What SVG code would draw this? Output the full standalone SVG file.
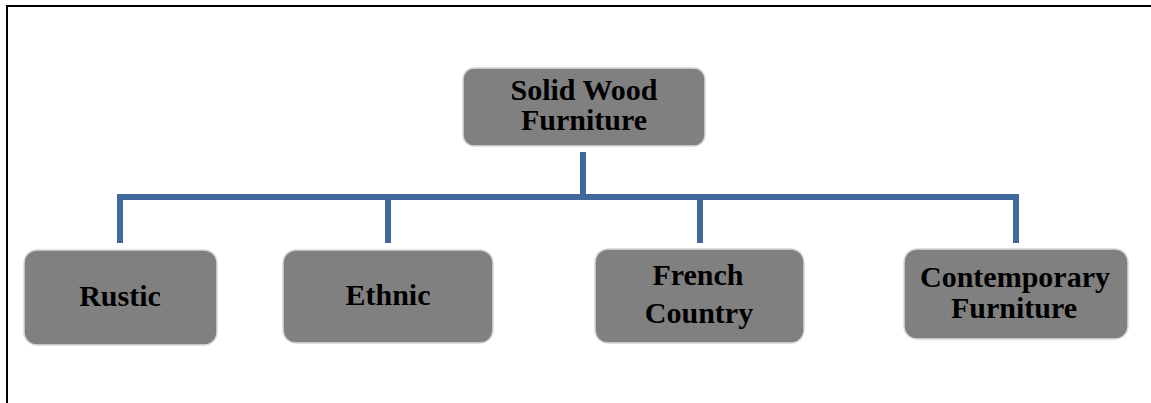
<svg xmlns="http://www.w3.org/2000/svg" width="1151" height="403" viewBox="0 0 1151 403">
  <style>
    .box { fill: #808080; stroke: #d9d9d9; stroke-width: 1.5; }
    .lbl { font-family: "Liberation Serif", "Times New Roman", serif; font-weight: bold; font-size: 30px; fill: #000; text-anchor: middle; }
    .conn { fill: none; stroke: #41689a; stroke-width: 6; stroke-linejoin: miter; }
  </style>
  <rect x="0" y="0" width="1151" height="403" fill="#ffffff"/>
  <path d="M7,403 V6 H1151" fill="none" stroke="#000" stroke-width="2"/>
  <g id="connectors">
    <path class="conn" d="M583,152 V197"/>
    <path class="conn" d="M120,243 V197 H1016 V243"/>
    <path class="conn" d="M388,197 V243"/>
    <path class="conn" d="M700,197 V243"/>
  </g>
  <g id="node-root">
    <rect class="box" x="463" y="68" width="242" height="78" rx="11"/>
    <text class="lbl" x="584" y="100">Solid Wood</text>
    <text class="lbl" x="584" y="130">Furniture</text>
  </g>
  <g id="node-rustic">
    <rect class="box" x="24" y="250" width="193" height="95" rx="13"/>
    <text class="lbl" x="120" y="306">Rustic</text>
  </g>
  <g id="node-ethnic">
    <rect class="box" x="283" y="250" width="210" height="93" rx="13"/>
    <text class="lbl" x="388" y="305">Ethnic</text>
  </g>
  <g id="node-french">
    <rect class="box" x="595" y="249" width="209" height="94" rx="13"/>
    <text class="lbl" x="698" y="285">French</text>
    <text class="lbl" x="699" y="323">Country</text>
  </g>
  <g id="node-contemporary">
    <rect class="box" x="904" y="249" width="224" height="90" rx="13"/>
    <text class="lbl" x="1015" y="287">Contemporary</text>
    <text class="lbl" x="1014" y="318">Furniture</text>
  </g>
</svg>
